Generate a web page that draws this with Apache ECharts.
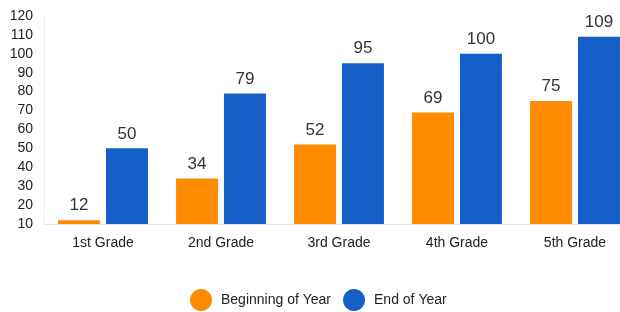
<!DOCTYPE html>
<html>
<head>
<meta charset="utf-8">
<script src="https://cdn.jsdelivr.net/npm/echarts@6/dist/echarts.min.js"></script>
<style>
  html, body { margin: 0; padding: 0; background: #fff; }
  #chart { width: 620px; height: 312px; }
</style>
</head>
<body>
<div id="chart"></div>
<script>
// data
const grades = ['1st Grade', '2nd Grade', '3rd Grade', '4th Grade', '5th Grade'];
const beginningOfYear = [12, 34, 52, 69, 75];
const endOfYear = [50, 79, 95, 100, 109];

const myChart = echarts.init(document.getElementById('chart'));

const labelStyle = {
    show: true,
    position: 'top',
    color: '#333',
    fontSize: 17,
    fontFamily: 'Liberation Sans, Arial, sans-serif',
    distance: 6
};

const option = {
    animation: false,
    textStyle: { fontFamily: 'Liberation Sans, Arial, sans-serif' },
    grid: {
        left: 44,
        right: -14,
        top: 16,
        bottom: 88,
        outerBoundsMode: 'none'
    },
    legend: {
        top: 284,
        left: 185,
        icon: 'circle',
        itemWidth: 22,
        itemHeight: 22,
        itemGap: 12,
        textStyle: { color: '#222', fontSize: 14, padding: [0, 0, 0, 4] },
        data: ['Beginning of Year', 'End of Year']
    },
    xAxis: {
        type: 'category',
        data: grades,
        axisLine: { lineStyle: { color: '#e6e6e6' } },
        axisTick: { show: false },
        axisLabel: { color: '#222', fontSize: 14, margin: 12 }
    },
    yAxis: {
        type: 'value',
        min: 10,
        max: 120,
        interval: 10,
        axisLine: { show: true, lineStyle: { color: '#eeeeee' } },
        axisTick: { show: false },
        splitLine: { show: false },
        axisLabel: { color: '#222', fontSize: 14, margin: 11 }
    },
    series: [
        {
            name: 'Beginning of Year',
            type: 'bar',
            data: beginningOfYear,
            barWidth: 42,
            barGap: '14%',
            itemStyle: { color: '#FF8C00' },
            label: labelStyle
        },
        {
            name: 'End of Year',
            type: 'bar',
            data: endOfYear,
            barWidth: 42,
            itemStyle: { color: '#155FC8' },
            label: labelStyle
        }
    ]
};

myChart.setOption(option);
</script>
</body>
</html>
